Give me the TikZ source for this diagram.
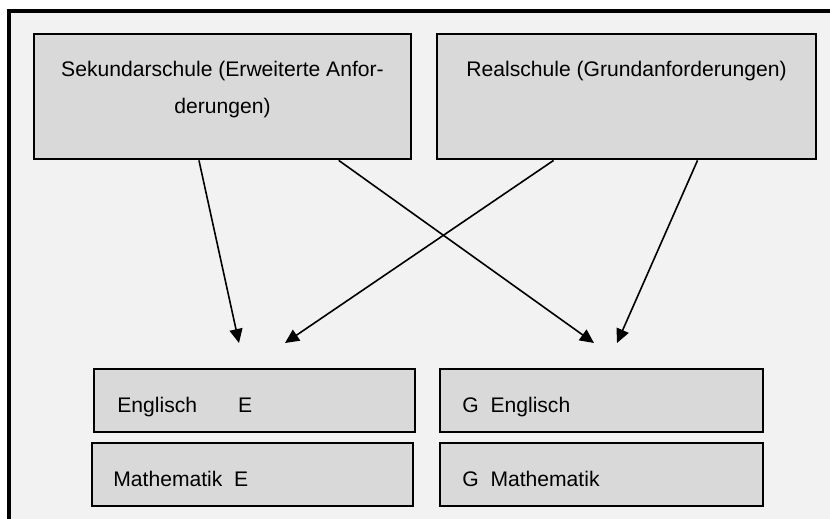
\documentclass[tikz,border=0pt]{standalone}
\usepackage{fontspec}
\setmainfont{Liberation Sans}
\usetikzlibrary{arrows.meta,calc}
\definecolor{framegray}{HTML}{F2F2F2}
\definecolor{boxgray}{HTML}{D9D9D9}
\tikzset{
  schoolbox/.style={draw=black,line width=1.4pt,fill=boxgray,minimum height=62.5pt,inner sep=0pt},
  subjbox/.style={draw=black,line width=1.4pt,fill=boxgray,minimum height=31.5pt,inner sep=0pt},
  boxtext/.style={inner sep=0pt,font=\fontsize{10.55}{18}\selectfont},
  pathway/.style={line width=0.8pt,-{Triangle[length=7pt,width=6.5pt]}}
}
\begin{document}
\begin{tikzpicture}[x=0.5pt,y=-0.5pt]
\useasboundingbox (0,0) rectangle (830,519);
\fill[white] (0,0) rectangle (830,519);
\clip (0,0) rectangle (830,519);
% Drawing frame
\filldraw[fill=framegray,draw=black,line width=2pt] (8.5,11.5) rectangle (860,560);
% Done with frame; drawing school boxes
\node[schoolbox,minimum width=188.5pt] (sek) at (222.5,96.5) {};
\node[schoolbox,minimum width=189.5pt] (real) at (626.5,96.5) {};
\node[boxtext,align=center,anchor=base] (sektext) at (222.5,113.000) {Sekundarschule (Erweiterte Anfor-\\derungen)};
\node[boxtext,anchor=base] (realtext) at (626.5,77.000) {Realschule (Grundanforderungen)};
% Done with school boxes; drawing subject boxes
\node[subjbox,minimum width=160.5pt] (engE) at (254.5,400.5) {};
\node[subjbox,minimum width=160.5pt] (matE) at (252.5,474.5) {};
\node[subjbox,minimum width=161.5pt] (engG) at (601.5,400.5) {};
\node[subjbox,minimum width=161.5pt] (matG) at (601.5,474.5) {};
\node[boxtext,anchor=base west] (engEtext) at (117.000,412.000) {Englisch\hspace{20.5pt}E};
\node[boxtext,anchor=base west] (matEtext) at (113.000,486.500) {Mathematik\ \ E};
\node[boxtext,anchor=base west] (engGtext) at (462.000,412.000) {G\ \ Englisch};
\node[boxtext,anchor=base west] (matGtext) at (462.000,486.500) {G\ \ Mathematik};
% Done with subject boxes; drawing arrows
\coordinate (tipA) at (239.000,343.000);
\coordinate (tipB) at (285.000,343.000);
\coordinate (tipC) at (594.000,343.000);
\coordinate (tipD) at (617.000,343.000);
\draw[pathway] ($(sek.south west)!0.438!(sek.south east)$) -- (tipA);
\draw[pathway] ($(sek.south west)!0.806!(sek.south east)$) -- (tipC);
\draw[pathway] ($(real.south west)!0.309!(real.south east)$) -- (tipB);
\draw[pathway] ($(real.south west)!0.686!(real.south east)$) -- (tipD);
% Done with arrows
\end{tikzpicture}
\end{document}
